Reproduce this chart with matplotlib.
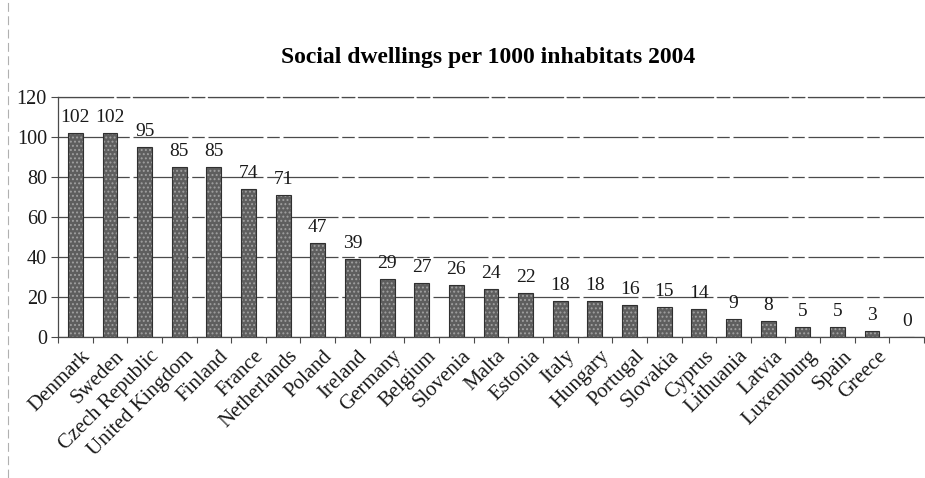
import matplotlib

matplotlib.use("Agg")

import matplotlib.pyplot as plt
import numpy as np

WIDTH = 925
HEIGHT = 478
DPI = 100

INK = "#1a1a1a"
GRID = "#4a4a4a"
BAR = "#5e5e5e"

# 25 bars in the source chart, but only 24 category labels are printed;
# the last slot (value 0) carries no label.
countries = [
    "Denmark", "Sweden", "Czech Republic", "United Kingdom", "Finland",
    "France", "Netherlands", "Poland", "Ireland", "Germany", "Belgium",
    "Slovenia", "Malta", "Estonia", "Italy", "Hungary", "Portugal",
    "Slovakia", "Cyprus", "Lithuania", "Latvia", "Luxemburg", "Spain",
    "Greece", "",
]
dwellings = [
    102, 102, 95, 85, 85, 74, 71, 47, 39, 29, 27, 26, 24, 22, 18, 18,
    16, 15, 14, 9, 8, 5, 5, 3, 0,
]
y_ticks = [0, 20, 40, 60, 80, 100, 120]

SERIF = ["Liberation Serif", "DejaVu Serif"]
GRID_STYLE = (0, (44, 3, 10, 3))


def main():
    plt.rcParams["font.family"] = SERIF
    plt.rcParams["hatch.linewidth"] = 0.9

    fig = plt.figure(figsize=(WIDTH / DPI, HEIGHT / DPI), dpi=DPI,
                     facecolor="white")
    ax = fig.add_axes([58 / WIDTH, (HEIGHT - 337) / HEIGHT,
                       866 / WIDTH, 240 / HEIGHT])

    x = np.arange(len(countries))
    ax.bar(x, dwellings, width=0.43, color=BAR, edgecolor="#a0a0a0",
           hatch="....", linewidth=0, zorder=3)
    ax.bar(x, dwellings, width=0.43, facecolor="none", edgecolor="#303030",
           linewidth=0.8, zorder=4)

    for xi, v in zip(x, dwellings):
        ax.annotate(str(v), (xi, v), xytext=(0, 5), textcoords="offset points",
                    ha="center", va="bottom", fontsize=14, color=INK)

    ax.set_xlim(-0.5, len(countries) - 0.5)
    ax.set_ylim(0, 120)
    ax.set_yticks(y_ticks)
    ax.set_yticklabels([str(t) for t in y_ticks], fontsize=14.5, color=INK)
    ax.tick_params(axis="y", direction="out", length=5, width=0.8,
                   color=GRID, pad=3)

    ax.set_xticks(x + 0.15)
    ax.set_xticklabels(countries, rotation=45, ha="right", va="top",
                       rotation_mode="anchor", fontsize=15, color=INK)
    ax.tick_params(axis="x", length=0, pad=7)
    # Boundary ticks between categories
    ax.set_xticks(np.arange(len(countries) + 1) - 0.5, minor=True)
    ax.tick_params(axis="x", which="minor", direction="out", length=4,
                   width=0.8, color=GRID)

    ax.grid(axis="y", color=GRID, linewidth=0.9, linestyle=GRID_STYLE,
            zorder=1)
    ax.set_axisbelow(True)
    for side in ("left", "top", "bottom"):
        ax.spines[side].set_color(GRID)
        ax.spines[side].set_linewidth(0.9)
    ax.spines["top"].set_linestyle(GRID_STYLE)
    ax.spines["right"].set_visible(False)

    fig.text(488 / WIDTH, (HEIGHT - 57) / HEIGHT,
             "Social dwellings per 1000 inhabitats 2004",
             ha="center", va="center", fontsize=17, fontweight="bold",
             color="black")

    # faint scan border on the left
    fig.add_artist(plt.Line2D([8 / WIDTH, 8 / WIDTH], [0, 1],
                              color="#b0b0b0", linewidth=0.8,
                              linestyle=(0, (8, 4))))

    fig.savefig("out.png", dpi=DPI, facecolor="white")
    plt.close(fig)


if __name__ == "__main__":
    main()
